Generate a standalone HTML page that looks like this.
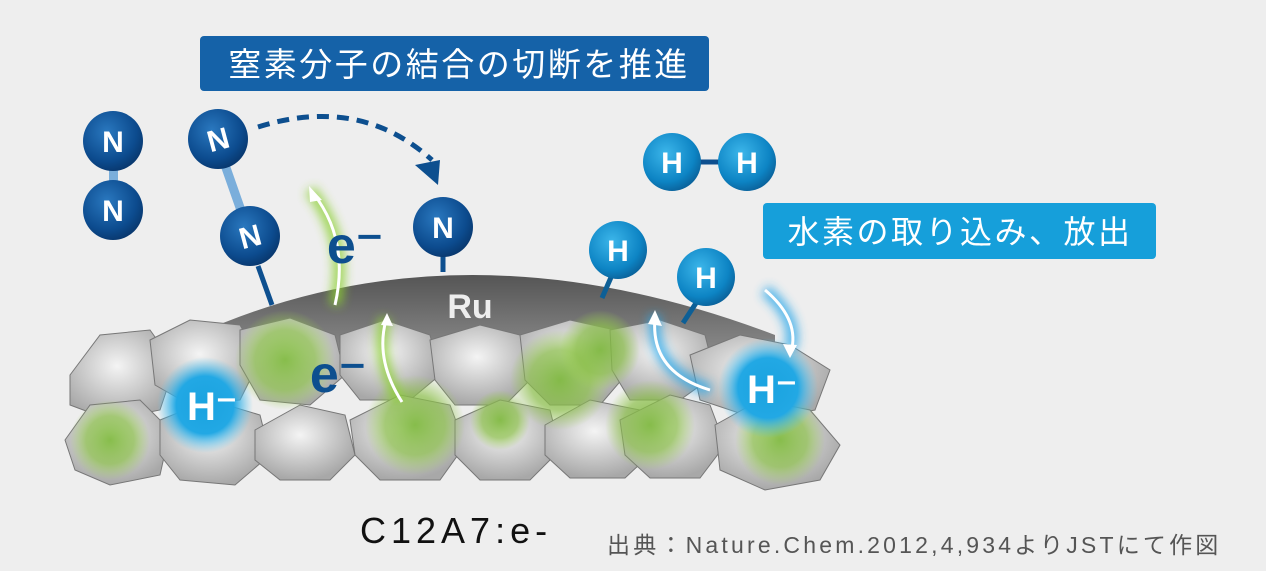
<!DOCTYPE html>
<html><head><meta charset="utf-8"><style>
html,body{margin:0;padding:0;background:#eeeeee;}
svg{display:block;font-family:"Liberation Sans","Noto Sans CJK JP",sans-serif;}
</style></head><body>
<svg width="1266" height="571" viewBox="0 0 1266 571" xmlns="http://www.w3.org/2000/svg">
<defs>
<radialGradient id="nb" cx="40%" cy="35%" r="70%"><stop offset="0" stop-color="#2a78bf"/><stop offset="0.7" stop-color="#0c4b8e"/><stop offset="1" stop-color="#08356a"/></radialGradient>
<radialGradient id="hb" cx="40%" cy="35%" r="70%"><stop offset="0" stop-color="#3cb6ea"/><stop offset="0.7" stop-color="#0d84c4"/><stop offset="1" stop-color="#0a5e96"/></radialGradient>
<linearGradient id="ru" x1="0" y1="0" x2="0" y2="1"><stop offset="0" stop-color="#555"/><stop offset="1" stop-color="#888"/></linearGradient>
<radialGradient id="cage" cx="45%" cy="40%" r="60%"><stop offset="0" stop-color="#f4f4f4"/><stop offset="1" stop-color="#a8a8a8"/></radialGradient>
<radialGradient id="gr"><stop offset="0" stop-color="#7cb83a" stop-opacity="0.9"/><stop offset="0.6" stop-color="#8cc04a" stop-opacity="0.7"/><stop offset="1" stop-color="#9bd050" stop-opacity="0"/></radialGradient>
<radialGradient id="bl"><stop offset="0" stop-color="#1aa3e0"/><stop offset="0.6" stop-color="#22a8e4"/><stop offset="1" stop-color="#5cc8f5" stop-opacity="0"/></radialGradient>
<filter id="gl" x="-50%" y="-50%" width="200%" height="200%"><feGaussianBlur stdDeviation="5"/></filter>
</defs>
<path d="M195,335 Q460,215 775,335 L775,350 L195,350 Z" fill="url(#ru)"/>
<g stroke="#777" stroke-width="1" fill="url(#cage)">
<polygon points="70,375 100,335 150,330 175,365 160,410 110,420 70,405"/>
<polygon points="150,340 190,320 240,325 260,360 240,400 190,405 155,385"/>
<polygon points="240,330 290,318 335,335 345,375 310,405 260,400 240,365"/>
<polygon points="340,335 385,320 430,335 440,375 410,400 360,400 340,375"/>
<polygon points="430,340 480,325 520,335 535,375 505,405 455,405 435,380"/>
<polygon points="520,335 570,320 615,330 630,370 600,405 550,405 525,380"/>
<polygon points="610,330 660,320 705,335 715,375 680,400 630,400 612,370"/>
<polygon points="690,355 740,335 790,345 830,370 815,410 760,420 700,400"/>
<polygon points="65,440 90,405 140,400 170,430 160,475 110,485 75,470"/>
<polygon points="160,420 210,400 260,415 270,455 235,485 180,480 160,455"/>
<polygon points="255,430 300,405 345,415 355,455 330,480 280,480 255,460"/>
<polygon points="350,420 400,395 450,405 465,445 440,480 380,480 355,455"/>
<polygon points="455,420 500,400 550,410 560,450 530,480 480,480 455,455"/>
<polygon points="545,425 590,400 640,410 655,450 625,478 570,478 545,455"/>
<polygon points="620,420 670,395 710,405 725,445 700,478 650,478 625,455"/>
<polygon points="715,425 760,400 810,410 840,445 820,480 765,490 720,470"/>
</g>
<g fill="url(#gr)">
<circle cx="285" cy="360" r="50"/><circle cx="415" cy="425" r="50"/><circle cx="560" cy="380" r="50"/>
<circle cx="650" cy="425" r="45"/><circle cx="780" cy="440" r="45"/><circle cx="110" cy="440" r="40"/>
<circle cx="600" cy="350" r="40"/><circle cx="500" cy="420" r="30"/>
</g>
<circle cx="205" cy="405" r="48" fill="url(#bl)"/>
<circle cx="768" cy="388" r="50" fill="url(#bl)"/>
<text x="212" y="420" font-size="40" font-weight="bold" fill="#fff" text-anchor="middle">H⁻</text>
<text x="772" y="403" font-size="40" font-weight="bold" fill="#fff" text-anchor="middle">H⁻</text>
<text x="470" y="318" font-size="34" font-weight="bold" fill="#eee" text-anchor="middle">Ru</text>
<g filter="url(#gl)" stroke="#8cd030" stroke-width="12" fill="none" opacity="0.8">
<path d="M335,305 Q350,240 310,190"/><path d="M400,400 Q375,360 385,318"/>
</g>
<g stroke="#fff" stroke-width="3" fill="none">
<path d="M335,305 Q350,240 313,193"/><path d="M402,402 Q375,360 386,320"/>
</g>
<polygon points="309,186 322,200 310,202" fill="#fff"/>
<polygon points="387,313 393,326 381,325" fill="#fff"/>
<text x="355" y="263" font-size="52" font-weight="bold" fill="#0d4f8f" text-anchor="middle">e⁻</text>
<text x="338" y="392" font-size="52" font-weight="bold" fill="#0d4f8f" text-anchor="middle">e⁻</text>
<g filter="url(#gl)" stroke="#2aa8ea" stroke-width="12" fill="none" opacity="0.8">
<path d="M710,390 Q650,370 655,315"/><path d="M765,290 Q800,320 790,350"/>
</g>
<g stroke="#fff" stroke-width="3" fill="none">
<path d="M710,390 Q650,372 655,318"/><path d="M765,290 Q798,318 792,348"/>
</g>
<polygon points="655,310 662,326 648,324" fill="#fff"/>
<polygon points="790,358 783,344 797,345" fill="#fff"/>
<rect x="109" y="165" width="9" height="25" fill="#7aaedb"/>
<line x1="218" y1="145" x2="250" y2="236" stroke="#7aaedb" stroke-width="9"/>
<line x1="258" y1="266" x2="272" y2="305" stroke="#0d4f8f" stroke-width="5"/>
<line x1="443" y1="250" x2="443" y2="272" stroke="#0d4f8f" stroke-width="5"/>
<circle cx="113" cy="141" r="30" fill="url(#nb)"/>
<circle cx="113" cy="210" r="30" fill="url(#nb)"/>
<circle cx="218" cy="139" r="30" fill="url(#nb)"/>
<circle cx="250" cy="236" r="30" fill="url(#nb)"/>
<circle cx="443" cy="227" r="30" fill="url(#nb)"/>
<g font-size="30" font-weight="bold" fill="#fff" text-anchor="middle">
<text x="113" y="152">N</text><text x="113" y="221">N</text>
<text x="218" y="150" transform="rotate(-15 218 139)">N</text>
<text x="250" y="247" transform="rotate(-15 250 236)">N</text>
<text x="443" y="238">N</text>
</g>
<path d="M258,127 Q360,95 432,160" stroke="#0d4f8f" stroke-width="5" stroke-dasharray="12,8" fill="none"/>
<polygon points="415,165 440,160 438,185" fill="#0d4f8f"/>
<line x1="672" y1="162" x2="747" y2="162" stroke="#0d4f8f" stroke-width="5"/>
<line x1="612" y1="275" x2="602" y2="298" stroke="#0d5f96" stroke-width="5"/>
<line x1="698" y1="300" x2="683" y2="323" stroke="#0d5f96" stroke-width="5"/>
<circle cx="672" cy="162" r="29" fill="url(#hb)"/>
<circle cx="747" cy="162" r="29" fill="url(#hb)"/>
<circle cx="618" cy="250" r="29" fill="url(#hb)"/>
<circle cx="706" cy="277" r="29" fill="url(#hb)"/>
<g font-size="30" font-weight="bold" fill="#fff" text-anchor="middle">
<text x="672" y="173">H</text><text x="747" y="173">H</text><text x="618" y="261">H</text><text x="706" y="288">H</text>
</g>
<rect x="200" y="36" width="509" height="55" rx="4" fill="#1562a8"/>
<text x="459" y="76" font-size="33" letter-spacing="2.5" fill="#fff" text-anchor="middle">窒素分子の結合の切断を推進</text>
<rect x="763" y="203" width="393" height="56" rx="4" fill="#169fda"/>
<text x="960" y="243" font-size="32" letter-spacing="2.5" fill="#fff" text-anchor="middle">水素の取り込み、放出</text>
<text x="360" y="543" font-size="36" letter-spacing="5" fill="#111">C12A7:e-</text>
<text x="607" y="553" font-size="23" letter-spacing="3.2" fill="#555">出典：Nature.Chem.2012,4,934よりJSTにて作図</text>
</svg>
</body></html>
